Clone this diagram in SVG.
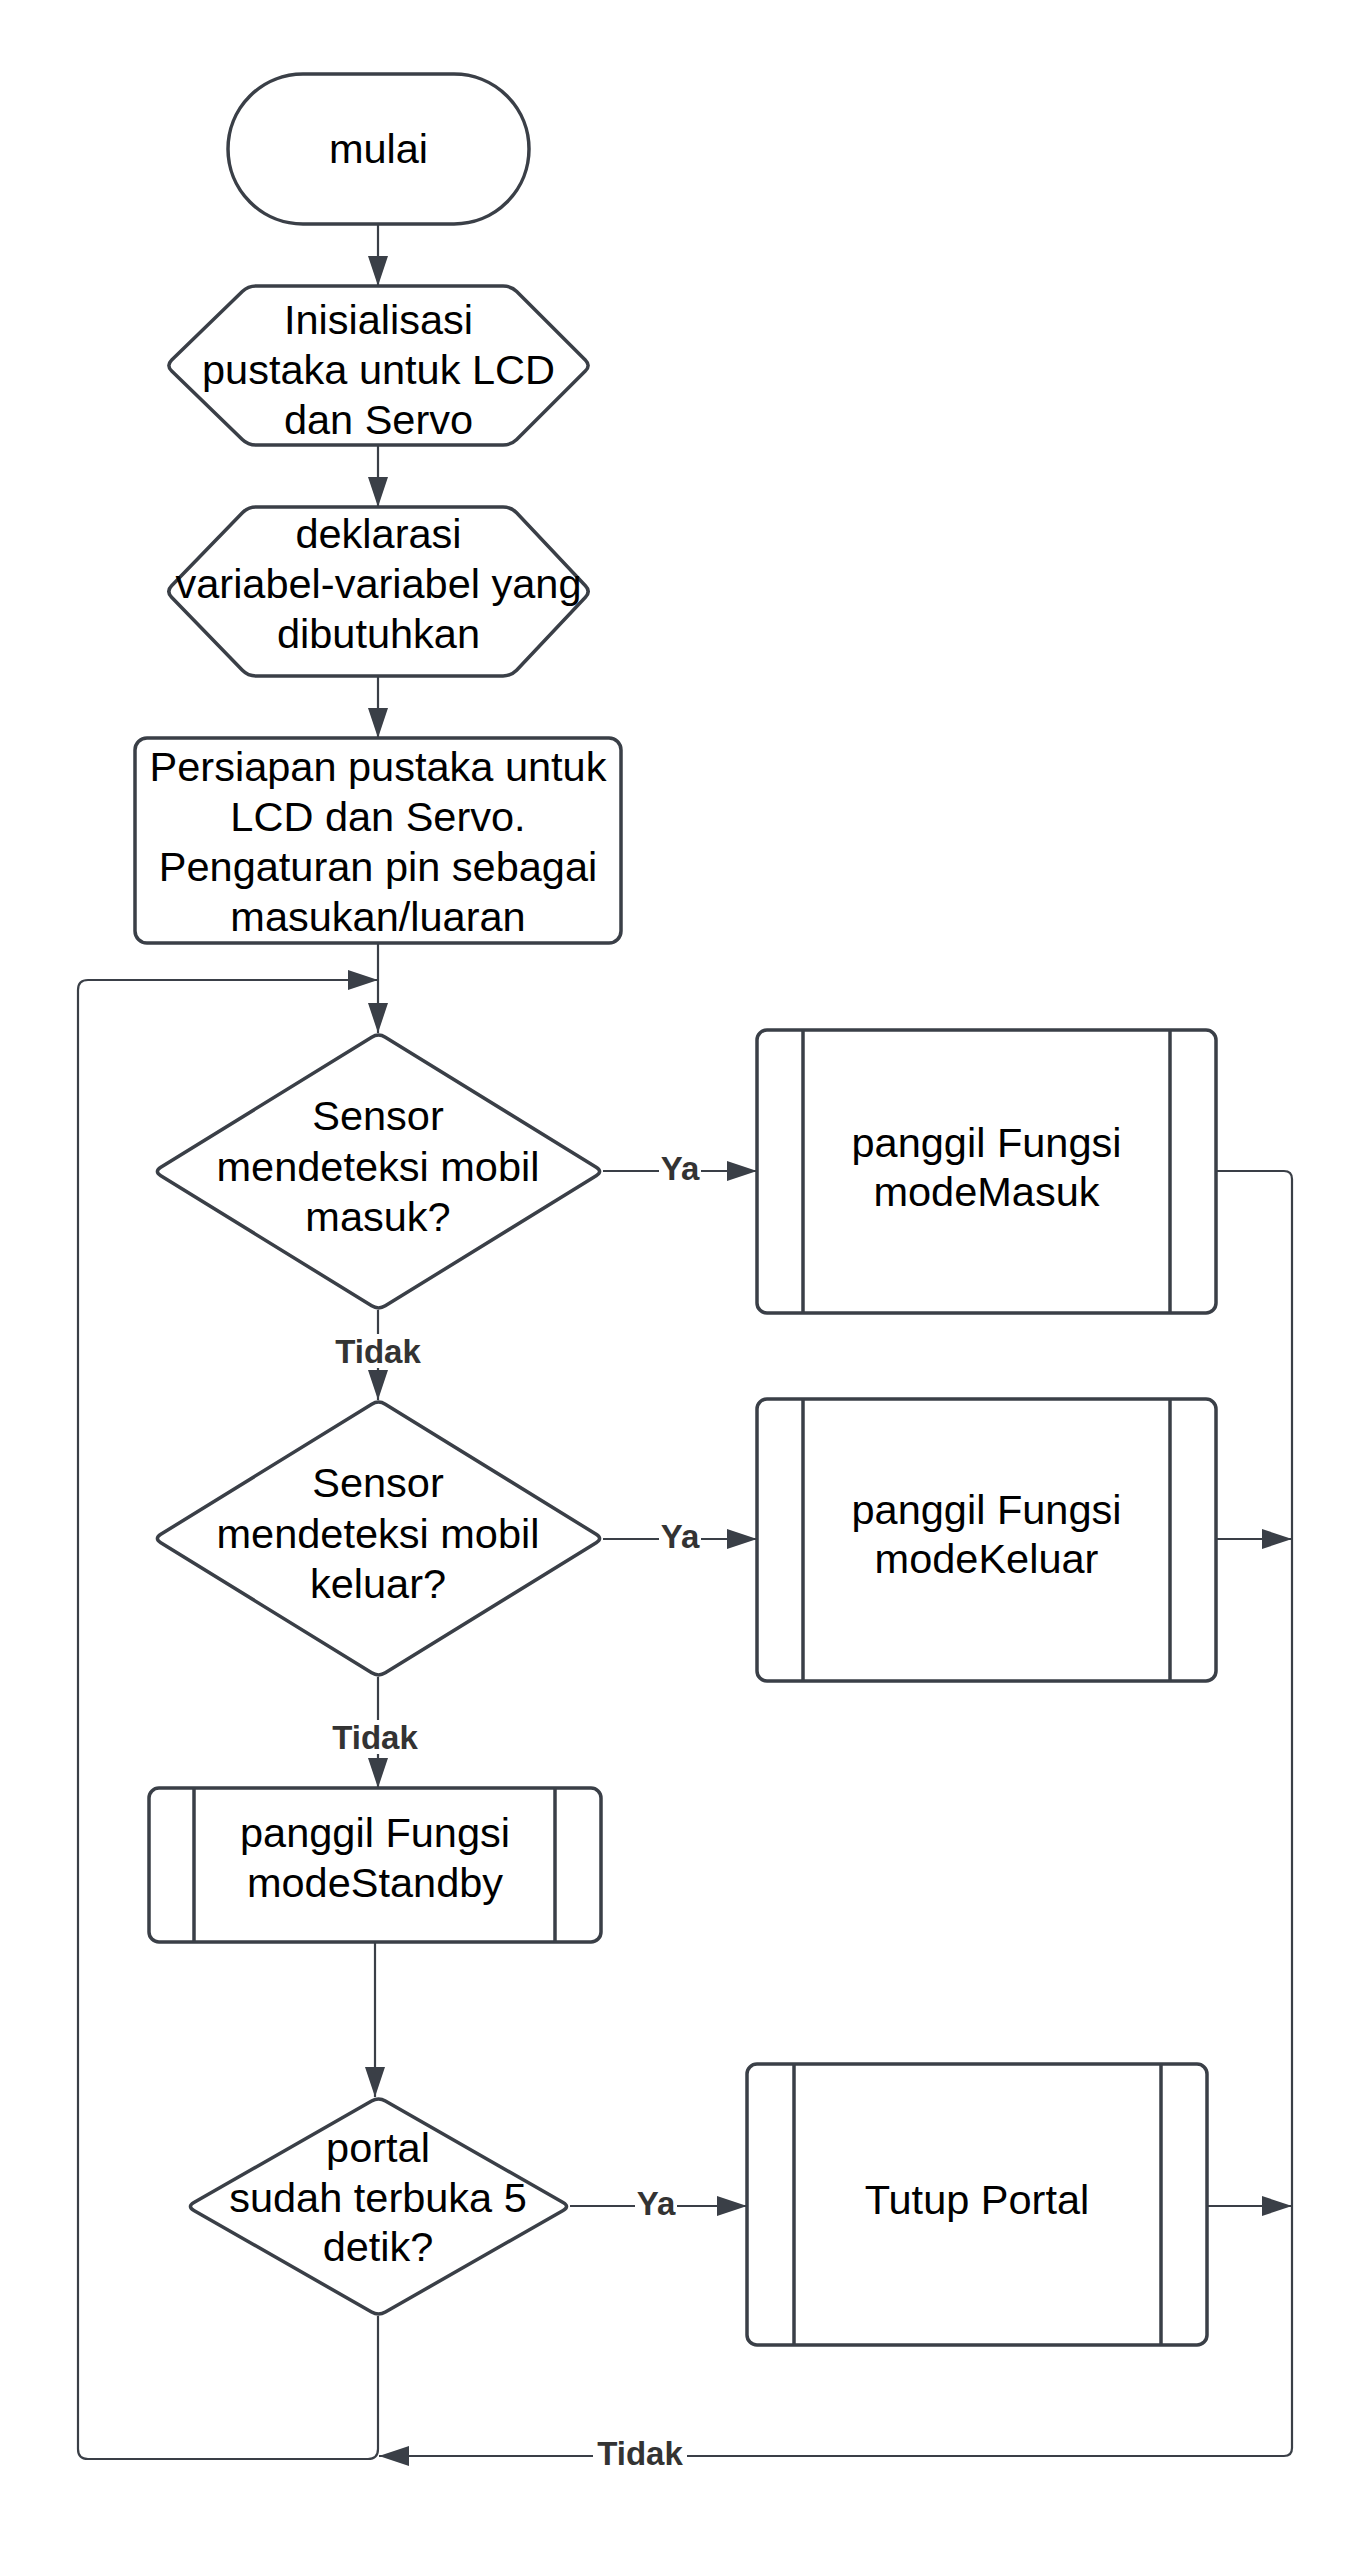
<svg xmlns="http://www.w3.org/2000/svg" width="1369" height="2552" viewBox="0 0 1369 2552">
<style>
.shape{fill:#fff;stroke:#3a3f47;stroke-width:3.5;stroke-linejoin:round}
.inner{stroke:#3a3f47;stroke-width:3.5}
.t{font-family:"Liberation Sans",Arial,sans-serif;font-size:41.5px;fill:#000;text-anchor:middle}
.conn{fill:none;stroke:#3a3f47;stroke-width:2.2;stroke-linejoin:round}
.lbl{font-family:"Liberation Sans",Arial,sans-serif;font-size:33px;font-weight:bold;fill:#333;text-anchor:middle}
.bg{fill:#fff}
</style>
<defs>
<marker id="ahb" viewBox="0 0 30 20" refX="30" refY="10" markerWidth="30" markerHeight="20" orient="auto" markerUnits="userSpaceOnUse">
<path d="M0,0 L30,10 L0,20 Z" fill="#3a3f47"/>
</marker>
</defs>
<rect width="1369" height="2552" fill="#fff"/>
<g id="connectors">
<path class="conn" d="M378,224 L378,286" marker-end="url(#ahb)"/>
<path class="conn" d="M378,445 L378,507" marker-end="url(#ahb)"/>
<path class="conn" d="M378,676 L378,738" marker-end="url(#ahb)"/>
<path class="conn" d="M378,943 L378,1033" marker-end="url(#ahb)"/>
<path class="conn" d="M603,1171 L757,1171" marker-end="url(#ahb)"/>
<path class="conn" d="M378,1310 L378,1400" marker-end="url(#ahb)"/>
<path class="conn" d="M603,1539 L757,1539" marker-end="url(#ahb)"/>
<path class="conn" d="M378,1677 L378,1788" marker-end="url(#ahb)"/>
<path class="conn" d="M375,1942 L375,2097" marker-end="url(#ahb)"/>
<path class="conn" d="M570,2206 L747,2206" marker-end="url(#ahb)"/>
<path class="conn" d="M1216,1171 L1284,1171 Q1292,1171 1292,1179 L1292,2448 Q1292,2456 1284,2456 L379,2456" marker-end="url(#ahb)"/>
<path class="conn" d="M1216,1539 L1292,1539" marker-end="url(#ahb)"/>
<path class="conn" d="M1207,2206 L1292,2206" marker-end="url(#ahb)"/>
<path class="conn" d="M378,2316 L378,2449 Q378,2459 368,2459 L88,2459 Q78,2459 78,2449 L78,990 Q78,980 88,980 L378,980" marker-end="url(#ahb)"/>
<rect class="bg" x="659" y="1153" width="42" height="31"/>
<text class="lbl" x="680" y="1180">Ya</text>
<rect class="bg" x="659" y="1521" width="42" height="31"/>
<text class="lbl" x="680" y="1548">Ya</text>
<rect class="bg" x="635" y="2188" width="42" height="31"/>
<text class="lbl" x="656" y="2215">Ya</text>
<rect class="bg" x="331" y="1334" width="94" height="34"/>
<text class="lbl" x="378" y="1363">Tidak</text>
<rect class="bg" x="328" y="1720" width="94" height="34"/>
<text class="lbl" x="375" y="1749">Tidak</text>
<rect class="bg" x="593" y="2436" width="94" height="34"/>
<text class="lbl" x="640" y="2465">Tidak</text>
</g>
<g id="mulai">
<rect class="shape" x="228" y="74" width="301" height="150" rx="75" ry="75"/>
<text class="t" x="378.5" y="163">mulai</text>
</g>
<g id="inisialisasi">
<path class="shape" d="M171.7,359.9 L242.3,291.6 Q248,286 256,286 L503,286 Q511,286 516.7,291.6 L585.3,359.9 Q591,365.5 585.3,371.1 L516.7,439.4 Q511,445 503,445 L256,445 Q248,445 242.3,439.4 L171.7,371.1 Q166,365.5 171.7,359.9 Z"/>
<text class="t" x="378.5" y="334">Inisialisasi</text>
<text class="t" x="378.5" y="384">pustaka untuk LCD</text>
<text class="t" x="378.5" y="434">dan Servo</text>
</g>
<g id="deklarasi">
<path class="shape" d="M171.6,585.8 L242.4,512.7 Q248,507 256,507 L503,507 Q511,507 516.6,512.7 L585.4,585.8 Q591,591.5 585.4,597.2 L516.6,670.3 Q511,676 503,676 L256,676 Q248,676 242.4,670.3 L171.6,597.2 Q166,591.5 171.6,585.8 Z"/>
<text class="t" x="378.5" y="548">deklarasi</text>
<text class="t" x="378.5" y="598">variabel-variabel yang</text>
<text class="t" x="378.5" y="648">dibutuhkan</text>
</g>
<g id="persiapan">
<rect class="shape" x="135" y="738" width="486" height="205" rx="12" ry="12"/>
<text class="t" x="378" y="781">Persiapan pustaka untuk</text>
<text class="t" x="378" y="831">LCD dan Servo.</text>
<text class="t" x="378" y="881">Pengaturan pin sebagai</text>
<text class="t" x="378" y="931">masukan/luaran</text>
</g>
<g id="cek-masuk">
<path class="shape" d="M160.8,1167.3 L371.7,1037.2 Q378.5,1033 385.3,1037.2 L596.2,1167.3 Q603,1171.5 596.2,1175.7 L385.3,1305.8 Q378.5,1310 371.7,1305.8 L160.8,1175.7 Q154,1171.5 160.8,1167.3 Z"/>
<text class="t" x="378" y="1130">Sensor</text>
<text class="t" x="378" y="1181">mendeteksi mobil</text>
<text class="t" x="378" y="1231">masuk?</text>
</g>
<g id="modeMasuk">
<rect class="shape" x="757" y="1030" width="459" height="283" rx="10" ry="10"/>
<line class="inner" x1="803" y1="1030" x2="803" y2="1313"/>
<line class="inner" x1="1170" y1="1030" x2="1170" y2="1313"/>
<text class="t" x="986.5" y="1157">panggil Fungsi</text>
<text class="t" x="986.5" y="1206">modeMasuk</text>
</g>
<g id="cek-keluar">
<path class="shape" d="M160.8,1534.3 L371.7,1404.2 Q378.5,1400 385.3,1404.2 L596.2,1534.3 Q603,1538.5 596.2,1542.7 L385.3,1672.8 Q378.5,1677 371.7,1672.8 L160.8,1542.7 Q154,1538.5 160.8,1534.3 Z"/>
<text class="t" x="378" y="1497">Sensor</text>
<text class="t" x="378" y="1548">mendeteksi mobil</text>
<text class="t" x="378" y="1598">keluar?</text>
</g>
<g id="modeKeluar">
<rect class="shape" x="757" y="1399" width="459" height="282" rx="10" ry="10"/>
<line class="inner" x1="803" y1="1399" x2="803" y2="1681"/>
<line class="inner" x1="1170" y1="1399" x2="1170" y2="1681"/>
<text class="t" x="986.5" y="1524">panggil Fungsi</text>
<text class="t" x="986.5" y="1573">modeKeluar</text>
</g>
<g id="modeStandby">
<rect class="shape" x="149" y="1788" width="452" height="154" rx="10" ry="10"/>
<line class="inner" x1="194" y1="1788" x2="194" y2="1942"/>
<line class="inner" x1="555" y1="1788" x2="555" y2="1942"/>
<text class="t" x="375" y="1847">panggil Fungsi</text>
<text class="t" x="375" y="1897">modeStandby</text>
</g>
<g id="cek-portal">
<path class="shape" d="M193.9,2202.5 L371.6,2101 Q378.5,2097 385.4,2101 L563.1,2202.5 Q570,2206.5 563.1,2210.5 L385.4,2312 Q378.5,2316 371.6,2312 L193.9,2210.5 Q187,2206.5 193.9,2202.5 Z"/>
<text class="t" x="378" y="2162">portal</text>
<text class="t" x="378" y="2212">sudah terbuka 5</text>
<text class="t" x="378" y="2261">detik?</text>
</g>
<g id="tutup-portal">
<rect class="shape" x="747" y="2064" width="460" height="281" rx="10" ry="10"/>
<line class="inner" x1="794" y1="2064" x2="794" y2="2345"/>
<line class="inner" x1="1161" y1="2064" x2="1161" y2="2345"/>
<text class="t" x="977" y="2214">Tutup Portal</text>
</g>
</svg>
